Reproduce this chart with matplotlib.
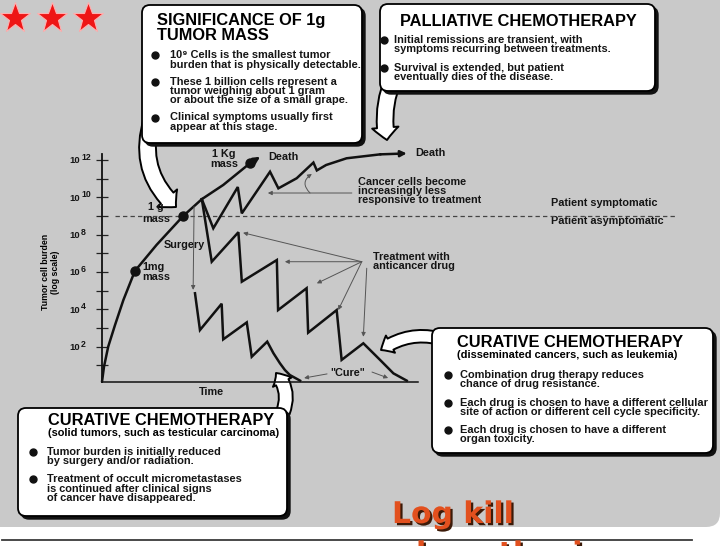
import matplotlib
matplotlib.use('Agg')
import matplotlib.pyplot as plt
from matplotlib.patches import FancyBboxPatch, FancyArrowPatch
from matplotlib.transforms import offset_copy
import matplotlib.patheffects as pe

plt.rcParams['font.family'] = ['Liberation Sans', 'DejaVu Sans']
plt.rcParams['font.weight'] = 'bold'

# ---------------- data (time in arbitrary units, burden as log10 cells) ----------------
growth_time = [0.0, 0.65, 2.0, 4.2, 6.9, 10.6, 17.6, 26.2, 32.2, 39.1, 47.7, 51.0]
growth_log = [0.12, 0.93, 2.0, 3.16, 4.5, 6.05, 7.45, 9.0, 9.9, 10.66, 11.82, 12.17]

mass_time = [10.6, 26.2, 47.7]
mass_log = [6.05, 9.0, 11.82]

palliative_time = [32.2, 35.9, 43.8, 45.1, 54.2, 56.9, 62.8, 68.2, 69.3, 72.3, 78.9, 89.7, 98.3]
palliative_log = [9.9, 8.34, 10.55, 9.14, 11.37, 10.48, 11.02, 11.86, 11.44, 11.73, 12.09, 12.3, 12.35]

disseminated_time = [32.2, 35.4, 44.0, 45.1, 56.4, 56.8, 66.0, 66.5, 75.7, 77.3, 84.3, 89.7, 94.0, 98.3]
disseminated_log = [9.9, 6.55, 8.13, 5.48, 6.64, 3.96, 5.13, 2.75, 3.96, 1.29, 2.18, 1.29, 0.57, 0.18]

solid_time = [30.0, 31.6, 38.6, 39.1, 46.7, 48.3, 53.3, 55.3, 57.4, 59.0, 60.6, 63.9]
solid_log = [4.86, 2.89, 4.3, 2.39, 3.3, 1.46, 2.27, 1.65, 1.11, 0.75, 0.48, 0.18]

ytick_decades = list(range(1, 13))
ytick_labels = {2: '2', 4: '4', 6: '6', 8: '8', 10: '10', 12: '12'}

# ---------------- figure ----------------
W, H = 728, 546
fig = plt.figure(figsize=(W / 100, H / 100), dpi=100)
fig.patch.set_facecolor('white')
bg = fig.add_axes([0, 0, 1, 1])
bg.set_xlim(0, W)
bg.set_ylim(H, 0)
bg.axis('off')
bg.set_zorder(0)

bg.add_patch(FancyBboxPatch((-20, -20), 740, 547, boxstyle='round,pad=0,rounding_size=14',
                            fc='#c9c9c9', ec='none', zorder=0))
bg.plot([2, 692], [540, 540], color='#3a3a3a', lw=1.3, zorder=1)

# stars
bg.plot([15, 52, 88], [18, 18, 18], ls='none', marker='*', ms=23, color='#ee1616',
        mec='#ffb0b0', mew=0.8, zorder=5)


def tail(pa, pb, rad, hl, hw, tw):
    p = FancyArrowPatch(pa, pb, arrowstyle=f'simple,head_length={hl},head_width={hw},tail_width={tw}',
                        connectionstyle=f'arc3,rad={rad}', mutation_scale=1, fc='white',
                        ec='black', lw=1.4, zorder=2, shrinkA=0, shrinkB=0)
    bg.add_patch(p)


def box(x0, y0, x1, y1):
    bg.add_patch(FancyBboxPatch((x0 + 3, y0 + 3), x1 - x0, y1 - y0,
                                boxstyle='round,pad=0,rounding_size=8', fc='#111111',
                                ec='#111111', lw=1, zorder=3))
    bg.add_patch(FancyBboxPatch((x0, y0), x1 - x0, y1 - y0,
                                boxstyle='round,pad=0,rounding_size=8', fc='white',
                                ec='black', lw=1.3, zorder=4))


def bullets(xb, xt, lines, starts, fs=7.9):
    for y, s in lines:
        bg.text(xt, y, s, fontsize=fs, ha='left', va='center', zorder=6, color='#151515')
    for y in starts:
        bg.plot([xb], [y], 'o', ms=5, color='#111111', zorder=6)


TFS = 11.8

# tails of the callouts
tail((152, 120), (176, 207), 0.32, 9, 19, 12)
tail((393, 80), (387, 140), 0.15, 9, 19, 12)
tail((445, 340), (381, 350), 0.25, 8, 14, 9)
tail((283, 412), (276, 373), 0.3, 8, 15, 10)

# Significance box
box(142, 5, 362, 143)
bg.text(157, 20, 'SIGNIFICANCE OF 1g', fontsize=TFS, ha='left', va='center', zorder=6)
bg.text(157, 35, 'TUMOR MASS', fontsize=TFS, ha='left', va='center', zorder=6)
bullets(155, 170, [(55, '10\u2079 Cells is the smallest tumor'),
                   (64.5, 'burden that is physically detectable.'),
                   (82, 'These 1 billion cells represent a'),
                   (91, 'tumor weighing about 1 gram'),
                   (100, 'or about the size of a small grape.'),
                   (117.5, 'Clinical symptoms usually first'),
                   (127, 'appear at this stage.')], [55, 82, 117.5])

# Palliative box
box(380, 4, 655, 91)
bg.text(400, 22, 'PALLIATIVE CHEMOTHERAPY', fontsize=TFS, ha='left', va='center', zorder=6)
bullets(384, 394, [(40, 'Initial remissions are transient, with'),
                   (49.5, 'symptoms recurring between treatments.'),
                   (68, 'Survival is extended, but patient'),
                   (77.5, 'eventually dies of the disease.')], [40, 68])

# Curative (disseminated) box
box(432, 328, 713, 453)
bg.text(457, 342.5, 'CURATIVE CHEMOTHERAPY', fontsize=TFS, ha='left', va='center', zorder=6)
bg.text(457, 355, '(disseminated cancers, such as leukemia)', fontsize=7.9, ha='left',
        va='center', zorder=6)
bullets(448, 460, [(375, 'Combination drug therapy reduces'),
                   (384, 'chance of drug resistance.'),
                   (403, 'Each drug is chosen to have a different cellular'),
                   (412, 'site of action or different cell cycle specificity.'),
                   (430, 'Each drug is chosen to have a different'),
                   (439, 'organ toxicity.')], [375, 403, 430])

# Curative (solid) box
box(18, 408, 287, 516)
bg.text(48, 420.5, 'CURATIVE CHEMOTHERAPY', fontsize=TFS, ha='left', va='center', zorder=6)
bg.text(48, 433, '(solid tumors, such as testicular carcinoma)', fontsize=7.9, ha='left',
        va='center', zorder=6)
bullets(33, 47, [(452, 'Tumor burden is initially reduced'),
                 (461, 'by surgery and/or radiation.'),
                 (479, 'Treatment of occult micrometastases'),
                 (488.5, 'is continued after clinical signs'),
                 (498, 'of cancer have disappeared.')], [452, 479])

# chart labels
lab = dict(fontsize=7.8, zorder=6, color='#151515')
bg.text(224, 154, '1 Kg', ha='center', va='center', **lab)
bg.text(224, 164, 'mass', ha='center', va='center', **lab)
bg.text(268, 157, 'Death', ha='left', va='center', **lab)
bg.text(415, 153.5, 'Death', ha='left', va='center', **lab)
bg.text(156, 207.5, '1 g', ha='center', va='center', **lab)
bg.text(156, 218.5, 'mass', ha='center', va='center', **lab)
bg.text(142, 267.5, '1mg', ha='left', va='center', **lab)
bg.text(142, 277.5, 'mass', ha='left', va='center', **lab)
bg.text(184, 245, 'Surgery', ha='center', va='center', **lab)
bg.text(211, 392, 'Time', ha='center', va='center', **lab)
bg.text(348, 373, '"Cure"', ha='center', va='center', **lab)
for y, s in [(182, 'Cancer cells become'), (191, 'increasingly less'), (200, 'responsive to treatment')]:
    bg.text(358, y, s, ha='left', va='center', **lab)
bg.text(551, 203, 'Patient symptomatic', ha='left', va='center', **lab)
bg.text(551, 221, 'Patient asymptomatic', ha='left', va='center', **lab)
bg.text(373, 257, 'Treatment with', ha='left', va='center', **lab)
bg.text(373, 266, 'anticancer drug', ha='left', va='center', **lab)
bg.text(45, 272, 'Tumor cell burden', rotation=90, fontsize=6.3, ha='center', va='center', zorder=6)
bg.text(56, 272, '(log scale)', rotation=90, fontsize=6.3, ha='center', va='center', zorder=6)

# title
shadow_fx = [pe.SimplePatchShadow(offset=(1.6, -1.6), shadow_rgbFace='#3c1a08', alpha=1), pe.Normal()]
bg.text(392, 523, 'Log kill', fontsize=21.5, family='DejaVu Sans', fontweight='bold',
        color='#e2501e', ha='left', va='baseline', zorder=7, path_effects=shadow_fx)
bg.text(416, 563, 'hypothesis:', fontsize=21.5, family='DejaVu Sans', fontweight='bold',
        color='#e2501e', ha='left', va='baseline', zorder=7, path_effects=shadow_fx)

# ---------------- chart axes ----------------
y_bot_px, y_top_px = 384 - 18.67 * 0.1, 384 - 18.67 * 12.3
ax = fig.add_axes([102 / W, (H - y_bot_px) / H, (102 * 3.1) / W, (y_bot_px - y_top_px) / H])
ax.set_zorder(1)
ax.patch.set_alpha(0)
ax.set_xlim(0, 102)
ax.set_ylim(0.1, 12.3)
for s in ['top', 'right']:
    ax.spines[s].set_visible(False)
ax.spines['left'].set_linewidth(1.3)
ax.spines['bottom'].set_linewidth(1.1)
ax.spines['left'].set_color('#111')
ax.spines['bottom'].set_color('#111')
ax.set_xticks([])
ax.set_yticks(ytick_decades)
ax.set_yticklabels([])
ax.tick_params(axis='y', direction='inout', length=8, width=0.9, color='#222')

t10 = offset_copy(ax.get_yaxis_transform(), fig=fig, x=-22, y=-1, units='dots')
texp = offset_copy(ax.get_yaxis_transform(), fig=fig, x=-21, y=2.5, units='dots')
for d, e in ytick_labels.items():
    ax.text(0, d, '10', transform=t10, ha='right', va='center', fontsize=6.8, color='#151515')
    ax.text(0, d, e, transform=texp, ha='left', va='center', fontsize=6.3, color='#151515')

lc = '#111111'
ax.plot([4.2, 185.5], [9, 9], ls=(0, (3.5, 2.5)), color='#444', lw=0.9, clip_on=False)
ax.plot(growth_time[:-1], growth_log[:-1], color=lc, lw=1.8, clip_on=False, solid_capstyle='round')
ax.annotate('', xy=(growth_time[-1], growth_log[-1]), xytext=(growth_time[-2], growth_log[-2]),
            annotation_clip=False,
            arrowprops=dict(arrowstyle='-|>', color=lc, lw=1.8, mutation_scale=9, shrinkA=0, shrinkB=0))
ax.plot(mass_time, mass_log, 'o', ms=6.5, color=lc, clip_on=False)
ax.plot(palliative_time[:-1], palliative_log[:-1], color=lc, lw=1.8, clip_on=False, solid_joinstyle='miter')
ax.annotate('', xy=(palliative_time[-1], palliative_log[-1]), xytext=(palliative_time[-2], palliative_log[-2]),
            annotation_clip=False,
            arrowprops=dict(arrowstyle='-|>', color=lc, lw=1.8, mutation_scale=9, shrinkA=0, shrinkB=0))
ax.plot(disseminated_time, disseminated_log, color=lc, lw=1.8, clip_on=False, solid_joinstyle='miter')
ax.plot(solid_time, solid_log, color=lc, lw=1.8, clip_on=False, solid_joinstyle='miter')

thin = dict(arrowstyle='-|>', color='#555', lw=0.7, mutation_scale=6, shrinkA=0, shrinkB=0)
# surgery
ax.annotate('', xy=(29.4, 5.04), xytext=(29.7, 9.5), arrowprops=thin)
# treatment arrows
src = (83.8, 6.55)
for tgt in [(45.5, 8.1), (59.0, 6.55), (69.3, 5.39), (76.2, 3.96)]:
    ax.annotate('', xy=tgt, xytext=src, arrowprops=thin)
ax.annotate('', xy=(84.3, 2.53), xytext=(85.4, 6.2), arrowprops=thin)
# resistance arrows
ax.annotate('', xy=(53.5, 10.23), xytext=(80.6, 10.23), arrowprops=thin)
ax.annotate('', xy=(67.7, 11.25), xytext=(67.1, 10.23),
            arrowprops=dict(thin, connectionstyle='arc3,rad=-0.6'))
# cure arrows
ax.annotate('', xy=(65.2, 0.32), xytext=(72.6, 0.54), arrowprops=thin)
ax.annotate('', xy=(92.3, 0.32), xytext=(87.1, 0.64), arrowprops=thin)

fig.savefig('out.png', dpi=100, facecolor='white')
